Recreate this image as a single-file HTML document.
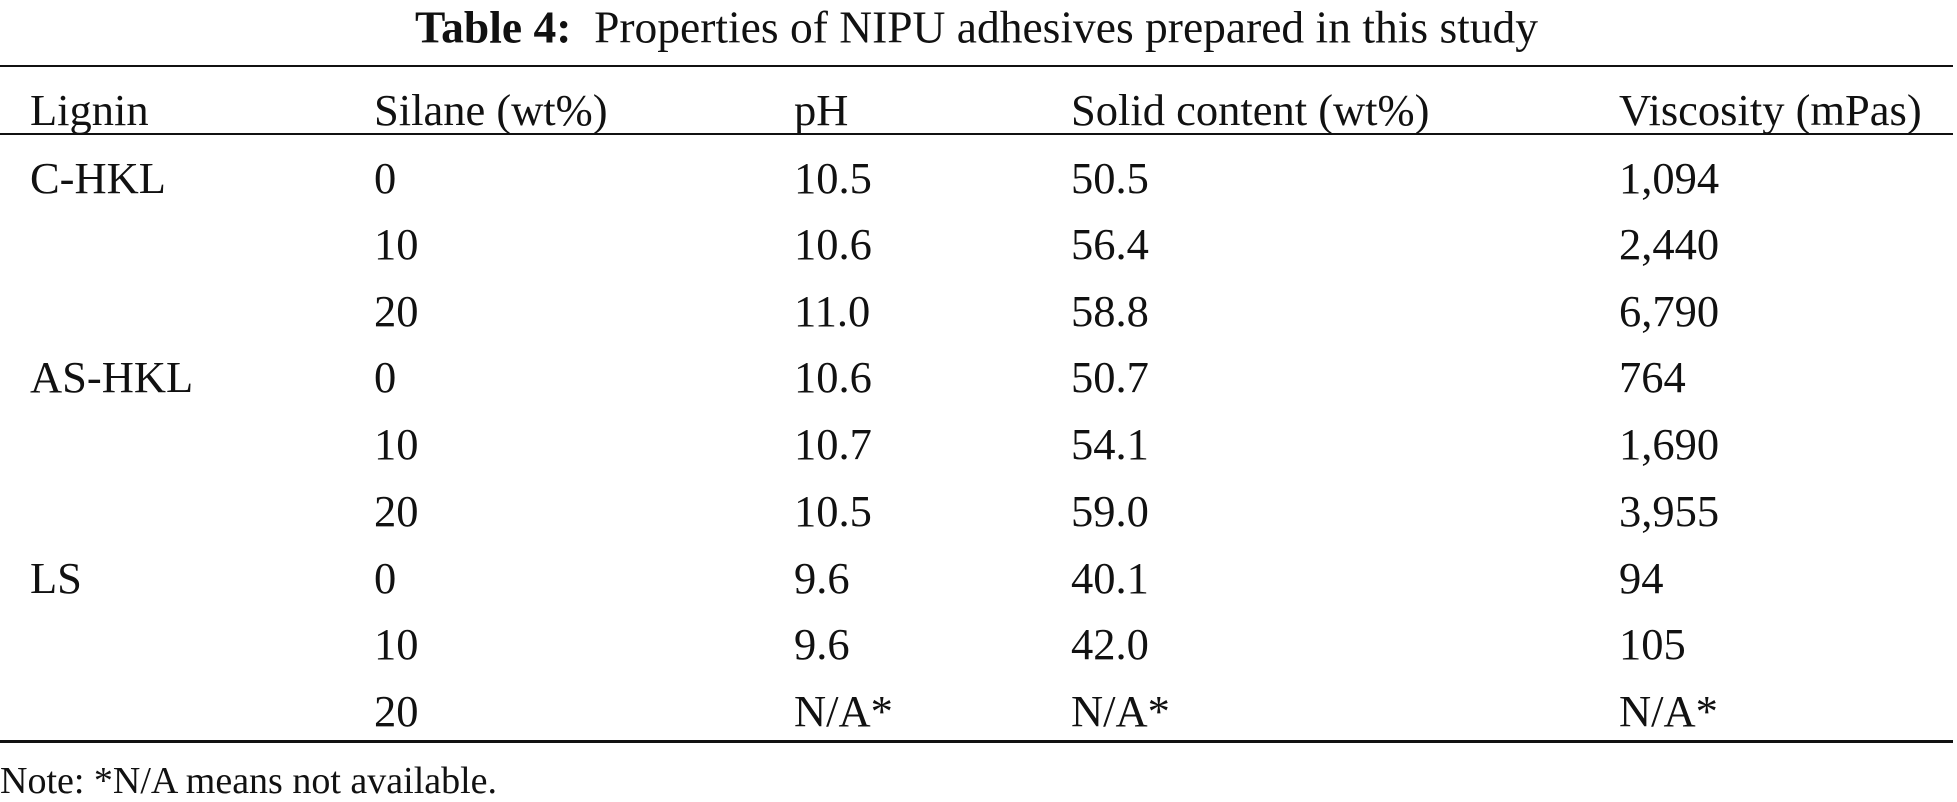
<!DOCTYPE html>
<html><head><style>
body{margin:0;width:1957px;height:793px;background:#fff;position:relative;font-family:"Liberation Serif",serif;font-size:44.5px;color:#111;overflow:hidden}
.t{position:absolute;white-space:nowrap;line-height:1;transform:translateY(-50%)}
.r{position:absolute;left:0;width:1953px;background:#111}
</style></head><body>
<div class="t" style="left:415px;top:27px;font-size:45.5px"><b>Table 4:</b>&nbsp; Properties of NIPU adhesives prepared in this study</div>
<div class="r" style="top:65px;height:2px"></div>
<div class="r" style="top:133px;height:2px"></div>
<div class="r" style="top:740px;height:3px"></div>
<div class="t" style="left:30px;top:110px">Lignin</div>
<div class="t" style="left:374px;top:110px">Silane (wt%)</div>
<div class="t" style="left:794px;top:110px">pH</div>
<div class="t" style="left:1071px;top:110px">Solid content (wt%)</div>
<div class="t" style="left:1619px;top:110px">Viscosity (mPas)</div>

<div class="t" style="left:30px;top:178px">C-HKL</div>
<div class="t" style="left:374px;top:178px">0</div><div class="t" style="left:794px;top:178px">10.5</div><div class="t" style="left:1071px;top:178px">50.5</div><div class="t" style="left:1619px;top:178px">1,094</div>
<div class="t" style="left:374px;top:244px">10</div><div class="t" style="left:794px;top:244px">10.6</div><div class="t" style="left:1071px;top:244px">56.4</div><div class="t" style="left:1619px;top:244px">2,440</div>
<div class="t" style="left:374px;top:311px">20</div><div class="t" style="left:794px;top:311px">11.0</div><div class="t" style="left:1071px;top:311px">58.8</div><div class="t" style="left:1619px;top:311px">6,790</div>
<div class="t" style="left:30px;top:377px">AS-HKL</div>
<div class="t" style="left:374px;top:377px">0</div><div class="t" style="left:794px;top:377px">10.6</div><div class="t" style="left:1071px;top:377px">50.7</div><div class="t" style="left:1619px;top:377px">764</div>
<div class="t" style="left:374px;top:444px">10</div><div class="t" style="left:794px;top:444px">10.7</div><div class="t" style="left:1071px;top:444px">54.1</div><div class="t" style="left:1619px;top:444px">1,690</div>
<div class="t" style="left:374px;top:511px">20</div><div class="t" style="left:794px;top:511px">10.5</div><div class="t" style="left:1071px;top:511px">59.0</div><div class="t" style="left:1619px;top:511px">3,955</div>
<div class="t" style="left:30px;top:578px">LS</div>
<div class="t" style="left:374px;top:578px">0</div><div class="t" style="left:794px;top:578px">9.6</div><div class="t" style="left:1071px;top:578px">40.1</div><div class="t" style="left:1619px;top:578px">94</div>
<div class="t" style="left:374px;top:644px">10</div><div class="t" style="left:794px;top:644px">9.6</div><div class="t" style="left:1071px;top:644px">42.0</div><div class="t" style="left:1619px;top:644px">105</div>
<div class="t" style="left:374px;top:711px">20</div><div class="t" style="left:794px;top:711px">N/A*</div><div class="t" style="left:1071px;top:711px">N/A*</div><div class="t" style="left:1619px;top:711px">N/A*</div>
<div class="t" style="left:0px;top:781px;font-size:38px">Note: *N/A means not available.</div>
</body></html>
